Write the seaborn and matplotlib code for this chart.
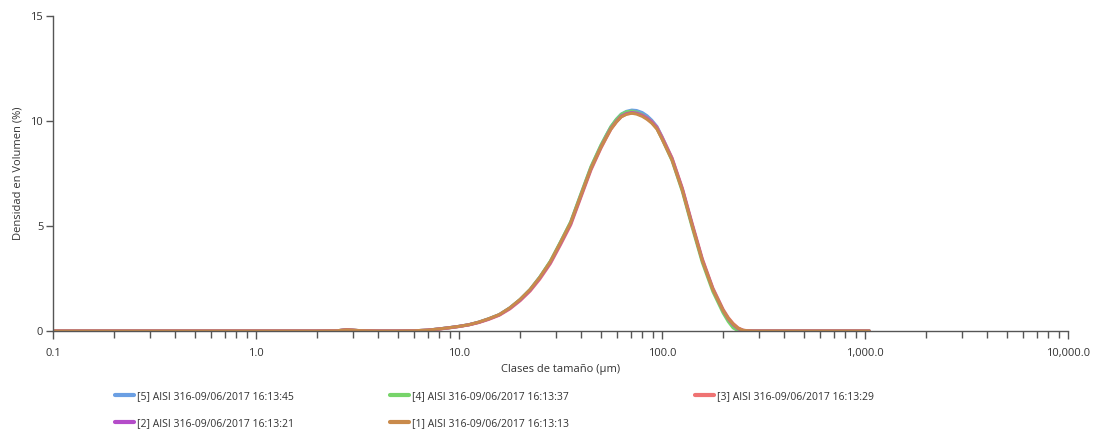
import numpy as np
import pandas as pd
import matplotlib
matplotlib.use("Agg")
import matplotlib.pyplot as plt
from matplotlib.ticker import FixedLocator, FixedFormatter, NullFormatter
from matplotlib.lines import Line2D
import seaborn as sns

# ---------------- data ----------------
sizes = [0.1, 0.5, 1.0, 2.0, 2.5, 2.8, 3.2, 4.0, 5.0, 6.0, 7.0, 8.0, 9.0,
         10.0, 11.2, 12.5, 14.0, 15.8, 17.8, 20.0, 22.4, 25.0, 28.2, 31.6,
         35.5, 40.0, 44.7, 50.0, 53.0, 56.0, 59.6, 63.0, 66.8, 71.0, 75.0,
         80.0, 84.4, 89.0, 94.4, 100.0, 112.0, 126.0, 141.0, 158.0, 178.0,
         200.0, 212.0, 224.0, 237.0, 251.0, 266.0, 282.0, 316.0, 400.0,
         500.0, 700.0, 1050.0]

s1 = [0, 0, 0, 0, 0.01, 0.06, 0.02, 0, 0, 0.01, 0.04, 0.10, 0.16,
      0.22, 0.30, 0.42, 0.58, 0.78, 1.10, 1.50, 1.97, 2.55, 3.30, 4.20,
      5.15, 6.50, 7.75, 8.75, 9.20, 9.62, 9.96, 10.20, 10.32, 10.37, 10.33,
      10.22, 10.08, 9.90, 9.62, 9.15, 8.15, 6.70, 5.00, 3.35, 1.98,
      0.98, 0.60, 0.33, 0.13, 0.03, 0.01, 0, 0, 0,
      0, 0, 0]
s2 = [0, 0, 0, 0, 0.01, 0.06, 0.02, 0, 0, 0.01, 0.04, 0.10, 0.16,
      0.22, 0.30, 0.41, 0.57, 0.77, 1.08, 1.47, 1.94, 2.52, 3.26, 4.16,
      5.11, 6.47, 7.73, 8.75, 9.22, 9.64, 9.98, 10.23, 10.35, 10.40, 10.37,
      10.26, 10.12, 9.94, 9.66, 9.19, 8.19, 6.74, 5.04, 3.38, 2.00,
      0.98, 0.58, 0.30, 0.11, 0.02, 0, 0, 0, 0,
      0, 0, 0]
s3 = [0, 0, 0, 0, 0.01, 0.06, 0.02, 0, 0, 0.01, 0.04, 0.09, 0.15,
      0.21, 0.29, 0.40, 0.55, 0.75, 1.05, 1.44, 1.90, 2.47, 3.21, 4.10,
      5.05, 6.41, 7.67, 8.70, 9.17, 9.60, 9.95, 10.20, 10.33, 10.38, 10.36,
      10.27, 10.14, 9.97, 9.70, 9.24, 8.25, 6.80, 5.10, 3.44, 2.05,
      1.03, 0.64, 0.36, 0.15, 0.04, 0.01, 0, 0, 0,
      0, 0, 0]
s4 = [0, 0, 0, 0, 0.01, 0.06, 0.02, 0, 0, 0.01, 0.04, 0.10, 0.16,
      0.22, 0.30, 0.42, 0.58, 0.78, 1.10, 1.50, 1.98, 2.57, 3.33, 4.24,
      5.20, 6.57, 7.83, 8.85, 9.31, 9.73, 10.08, 10.32, 10.44, 10.47, 10.42,
      10.30, 10.14, 9.94, 9.64, 9.15, 8.12, 6.64, 4.92, 3.26, 1.88,
      0.86, 0.45, 0.15, 0.01, 0, 0, 0, 0, 0,
      0, 0, 0]
s5 = [0, 0, 0, 0, 0.01, 0.06, 0.02, 0, 0, 0.01, 0.04, 0.10, 0.16,
      0.22, 0.30, 0.42, 0.58, 0.78, 1.10, 1.50, 1.97, 2.56, 3.31, 4.22,
      5.18, 6.54, 7.80, 8.82, 9.29, 9.72, 10.08, 10.33, 10.46, 10.52, 10.50,
      10.40, 10.25, 10.04, 9.74, 9.26, 8.22, 6.74, 5.02, 3.36, 1.98,
      0.97, 0.59, 0.32, 0.12, 0.03, 0.01, 0, 0, 0,
      0, 0, 0]

series_names = ["[5] AISI 316-09/06/2017 16:13:45",
                "[4] AISI 316-09/06/2017 16:13:37",
                "[3] AISI 316-09/06/2017 16:13:29",
                "[2] AISI 316-09/06/2017 16:13:21",
                "[1] AISI 316-09/06/2017 16:13:13"]
series_values = [s5, s4, s3, s2, s1]
series_colors = ["#6b9fe3", "#77d46a", "#ef7373", "#b44cc9", "#c98a4b"]

xtick_values = [0.1, 1.0, 10.0, 100.0, 1000.0, 10000.0]
xtick_labels = ["0.1", "1.0", "10.0", "100.0", "1,000.0", "10,000.0"]
ytick_values = [0, 5, 10, 15]

# --------------- build frame ---------------
rows = []
for name, vals in zip(series_names, series_values):
    for s, v in zip(sizes, vals):
        rows.append({"size": s, "value": v, "series": name})
df = pd.DataFrame(rows)

sns.set_theme(style="white")
plt.rcParams["font.family"] = ["Open Sans", "DejaVu Sans"]

fig = plt.figure(figsize=(10.99, 4.33), dpi=100)
ax = fig.add_axes([0.0482, 0.2356, 0.9236, 0.7274])

palette = dict(zip(series_names, series_colors))
sns.lineplot(data=df, x="size", y="value", hue="series", hue_order=series_names,
             palette=palette, linewidth=2.2, ax=ax, legend=False, sort=True)
for ln in ax.get_lines():
    ln.set_solid_joinstyle("round")
    ln.set_solid_capstyle("round")

ax.set_xscale("log")
ax.set_xlim(0.1, 10000)
ax.set_ylim(0, 15)

minor = []
for d in [0.1, 1, 10, 100, 1000]:
    for k in range(2, 10):
        minor.append(d * k)
ax.xaxis.set_major_locator(FixedLocator(xtick_values))
ax.xaxis.set_major_formatter(FixedFormatter(xtick_labels))
ax.xaxis.set_minor_locator(FixedLocator(minor))
ax.xaxis.set_minor_formatter(NullFormatter())
ax.yaxis.set_major_locator(FixedLocator(ytick_values))

ax.tick_params(axis="x", which="major", direction="out", length=6, width=1.0,
               color="#555555", labelsize=8, labelcolor="#333333", pad=6, bottom=True)
ax.tick_params(axis="x", which="minor", direction="out", length=5, width=1.0,
               color="#555555", bottom=True)
ax.tick_params(axis="y", which="major", direction="out", length=5, width=1.0,
               color="#555555", labelsize=8, labelcolor="#333333", pad=2, left=True)

for side in ["top", "right"]:
    ax.spines[side].set_visible(False)
for side in ["left", "bottom"]:
    ax.spines[side].set_color("#555555")
    ax.spines[side].set_linewidth(1.0)

ax.set_xlabel("Clases de tamaño (µm)", fontsize=8, color="#333333", labelpad=4)
ax.set_ylabel("Densidad en Volumen (%)", fontsize=8, color="#333333", labelpad=5)

# legend: three columns placed at the reference column positions
handles = {n: Line2D([], [], color=c, linewidth=3) for n, c in zip(series_names, series_colors)}
columns = [[series_names[0], series_names[3]],
           [series_names[1], series_names[4]],
           [series_names[2]]]
col_x = [0.1046, 0.3549, 0.6324]
for names, x in zip(columns, col_x):
    leg = fig.legend([handles[n] for n in names], names, loc="upper left",
                     bbox_to_anchor=(x, 0.097), ncol=1, frameon=False,
                     fontsize=7.5, handlelength=1.8, handletextpad=0.3,
                     labelspacing=1.55, borderaxespad=0, borderpad=0)
    for t in leg.get_texts():
        t.set_color("#333333")

fig.savefig("out.png", dpi=100, facecolor="white")
